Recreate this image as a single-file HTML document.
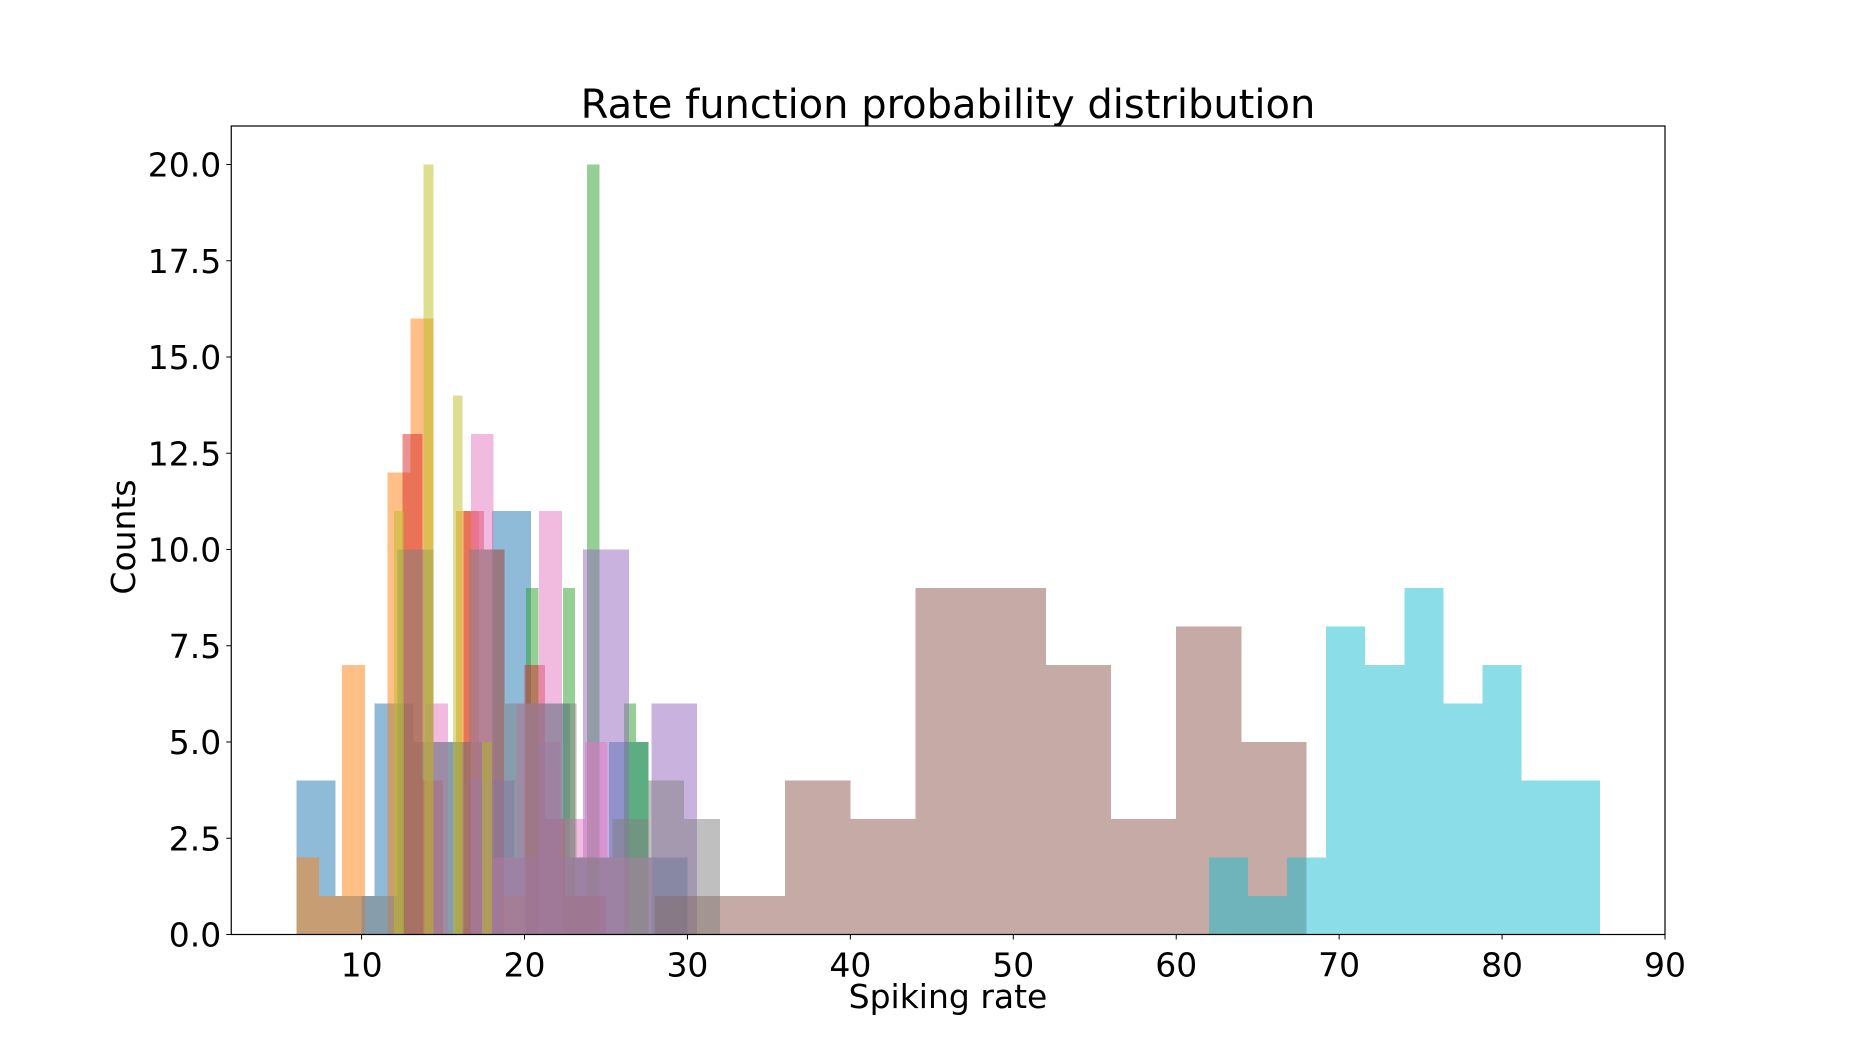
<!DOCTYPE html>
<html><head><meta charset="utf-8"><style>
html,body{margin:0;padding:0;background:#fff;}
svg text{font-family:"DejaVu Sans","Liberation Sans",sans-serif;fill:#000;}
</style></head><body>
<svg id="chart" width="1850" height="1050" viewBox="0 0 1850 1050" xmlns="http://www.w3.org/2000/svg">
<rect x="0" y="0" width="1850" height="1050" fill="#fff"/>
<g id="bars" shape-rendering="crispEdges"></g>
<g id="axes"></g>
<text x="948" y="118" font-size="40" text-anchor="middle">Rate function probability distribution</text>
<text x="948" y="1008" font-size="33" text-anchor="middle">Spiking rate</text>
<text x="0" y="0" font-size="33" text-anchor="middle" transform="translate(135,537) rotate(-90)">Counts</text>
</svg>
<script>
const seriesNames = ["c0","c1","c2","c3","c4","c5","c6","c7","c8","c9"];
const seriesColors = ["#1f77b4","#ff7f0e","#2ca02c","#d62728","#9467bd","#8c564b","#e377c2","#7f7f7f","#bcbd22","#17becf"];
const binStarts = [6, 6, 20.1, 12.5, 16.6, 28, 13.9, 10, 12, 62];
const binWidths = [2.4, 1.4, 0.75, 1.25, 1.4, 4, 1.4, 2.2, 0.6, 2.4];
const counts0 = [4,1,6,5,5,11,6,2,5,2];
const counts1 = [2,1,7,0,12,16,0,11,0,1];
const counts2 = [9,0,0,9,1,20,0,0,6,5];
const counts3 = [13,4,0,11,10,0,7,3,1,1];
const counts4 = [4,4,2,5,2,10,10,0,6,6];
const counts5 = [1,1,4,3,9,9,7,3,8,5];
const counts6 = [6,0,13,2,6,11,3,5,2,2];
const counts7 = [1,10,5,10,6,6,2,3,4,3];
const counts8 = [11,0,0,20,0,0,14,0,0,5];
const counts9 = [2,1,2,8,7,9,6,7,4,4];
const allCounts = [counts0,counts1,counts2,counts3,counts4,counts5,counts6,counts7,counts8,counts9];
const xTicks = [10,20,30,40,50,60,70,80,90];
const yTicks = [0,2.5,5,7.5,10,12.5,15,17.5,20];
const yTickLabels = ["0.0","2.5","5.0","7.5","10.0","12.5","15.0","17.5","20.0"];

const L=231.25,R=1665,T=126,B=934.5;
const xMin=2,xMax=90,yMin=0,yMax=21;
function xs(v){return L+(v-xMin)/(xMax-xMin)*(R-L);}
function ys(v){return B-(v-yMin)/(yMax-yMin)*(B-T);}
const NS="http://www.w3.org/2000/svg";
const bars=document.getElementById('bars');
allCounts.forEach((cs,s)=>{
  cs.forEach((c,i)=>{
    if(c<=0) return;
    const x0=binStarts[s]+i*binWidths[s], x1=x0+binWidths[s];
    const r=document.createElementNS(NS,'rect');
    r.setAttribute('x',xs(x0));r.setAttribute('width',xs(x1)-xs(x0));
    r.setAttribute('y',ys(c));r.setAttribute('height',ys(0)-ys(c));
    r.setAttribute('fill',seriesColors[s]);r.setAttribute('fill-opacity','0.5');
    
    
    bars.appendChild(r);
  });
});
const ax=document.getElementById('axes');
const frame=document.createElementNS(NS,'rect');
frame.setAttribute('x',L);frame.setAttribute('y',T);frame.setAttribute('width',R-L);frame.setAttribute('height',B-T);
frame.setAttribute('fill','none');frame.setAttribute('stroke','#000');frame.setAttribute('stroke-width','1.2');


ax.appendChild(frame);
xTicks.forEach(t=>{
  const l=document.createElementNS(NS,'line');
  l.setAttribute('x1',xs(t));l.setAttribute('x2',xs(t));l.setAttribute('y1',B);l.setAttribute('y2',B+5);
  l.setAttribute('stroke','#000');
  
  
  ax.appendChild(l);
  const tx=document.createElementNS(NS,'text');
  tx.setAttribute('x',xs(t));tx.setAttribute('y',B+42);tx.setAttribute('font-size','33');tx.setAttribute('text-anchor','middle');
  tx.textContent=t;
  
  
  ax.appendChild(tx);
});
yTicks.forEach((t,i)=>{
  const l=document.createElementNS(NS,'line');
  l.setAttribute('x1',L-5);l.setAttribute('x2',L);l.setAttribute('y1',ys(t));l.setAttribute('y2',ys(t));
  l.setAttribute('stroke','#000');
  
  
  ax.appendChild(l);
  const tx=document.createElementNS(NS,'text');
  tx.setAttribute('x',L-10);tx.setAttribute('y',ys(t)+12);tx.setAttribute('font-size','33');tx.setAttribute('text-anchor','end');
  tx.textContent=yTickLabels[i];
  
  
  ax.appendChild(tx);
});
</script>
</body></html>
